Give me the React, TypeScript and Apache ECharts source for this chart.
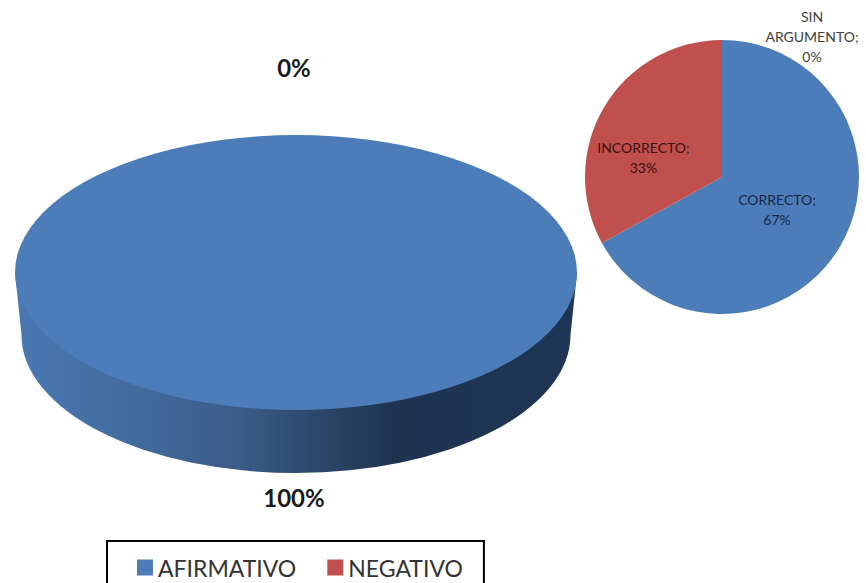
import React, { useEffect, useRef } from "react";
import * as echarts from "echarts";

const mainNames = ["AFIRMATIVO", "NEGATIVO"];
const mainValues = [100, 0];
const mainColors = ["#4C7DB8", "#C0504D"];
const subNames = ["CORRECTO", "INCORRECTO", "SIN ARGUMENTO"];
const subValues = [67, 33, 0];
const subColors = ["#4C7DB8", "#C0504D", "#9BBB59"];
const subLabelColors = ["#14294A", "#3D1010", "#404040"];
const subLabelShift = [[-6.5, -4], [-17, 17], [90, -69]];

const DISC = { cx: 296, cy: 272.5, rx: 281, ry: 137.5, cy2: 335, rx2: 274.5, ry2: 138 };
const sideGradient = new echarts.graphic.LinearGradient(0, 0, 1, 0, [
  { offset: 0, color: "#4A78B2" },
  { offset: 0.2, color: "#426C9F" },
  { offset: 0.4, color: "#3A5C88" },
  { offset: 0.55, color: "#2A4668" },
  { offset: 0.68, color: "#1E3350" },
  { offset: 1, color: "#1E3656" },
]);

const total = mainValues.reduce((a, b) => a + b, 0);

function renderDisc(index: number) {
  return (_params: any, api: any) => {
    const value = api.value(0);
    const share = value / total;
    const before = mainValues.slice(0, index).reduce((a, b) => a + b, 0) / total;
    const start = -Math.PI / 2 + before * 2 * Math.PI;
    const end = start + share * 2 * Math.PI;
    const mid = (start + end) / 2;
    const { cx, cy, rx, ry, cy2, rx2, ry2 } = DISC;
    const isLower = Math.sin(mid) > 0;
    const children: any[] = [];
    if (share > 0) {
      children.push({
        type: "path",
        shape: {
          pathData:
            `M${cx - rx} ${cy} L${cx - rx2} ${cy2} A${rx2} ${ry2} 0 0 0 ${cx + rx2} ${cy2} ` +
            `L${cx + rx} ${cy} Z`,
          layout: "cover",
          x: cx - rx,
          y: cy,
          width: 2 * rx,
          height: cy2 + ry2 - cy,
        },
        style: { fill: sideGradient },
      });
      children.push({
        type: "sector",
        x: cx,
        y: cy,
        scaleY: ry / rx,
        shape: { cx: 0, cy: 0, r0: 0, r: rx, startAngle: start, endAngle: end, clockwise: true },
        style: { fill: api.visual("color") },
      });
    }
    children.push({
      type: "text",
      style: {
        x: cx - 2,
        y: isLower ? cy2 + ry2 + 24 : cy - ry - 68,
        text: `${Math.round(share * 100)}%`,
        fill: "#1a1a1a",
        font: "bold 24px Lato",
        align: "center",
        verticalAlign: "middle",
      },
    });
    return { type: "group", children };
  };
}

export default function App() {
  const ref = useRef<HTMLDivElement>(null);
  useEffect(() => {
    const chart = echarts.init(ref.current!, null, { renderer: "svg" });
    chart.setOption({
      animation: false,
      backgroundColor: "#ffffff",
      legend: {
        left: 107,
        top: 541,
        orient: "horizontal",
        data: mainNames,
        icon: "rect",
        itemWidth: 16,
        itemHeight: 16,
        itemGap: 31,
        padding: [15, 21, 16, 30],
        borderColor: "#000000",
        borderWidth: 2,
        textStyle: { fontFamily: "Lato", fontSize: 23, color: "#333333" },
      },
      series: [
        ...mainNames.map((name, i) => ({
          type: "custom",
          name,
          coordinateSystem: "none",
          clip: false,
          itemStyle: { color: mainColors[i] },
          data: [[mainValues[i]]],
          renderItem: renderDisc(i),
        })),
        {
          type: "pie",
          name: "detalle",
          center: [722, 177],
          radius: [0, 137],
          startAngle: 90,
          clockwise: true,
          percentPrecision: 0,
          data: subNames.map((name, i) => ({
            name,
            value: subValues[i],
            itemStyle: { color: subColors[i] },
            label: { color: subLabelColors[i] },
          })),
          label: {
            show: true,
            position: "inside",
            fontFamily: "Lato",
            fontSize: 14,
            lineHeight: 20,
            align: "center",
            formatter: (p: any) => `${p.name.replace(" ", "\n")};\n${p.percent}%`,
          },
          labelLine: { show: false },
          labelLayout: (p: any) => ({ dx: subLabelShift[p.dataIndex][0], dy: subLabelShift[p.dataIndex][1] }),
        },
      ],
    });
    return () => chart.dispose();
  }, []);
  return <div ref={ref} style={{ position: "absolute", left: 0, top: 0, width: 866, height: 583 }} />;
}
